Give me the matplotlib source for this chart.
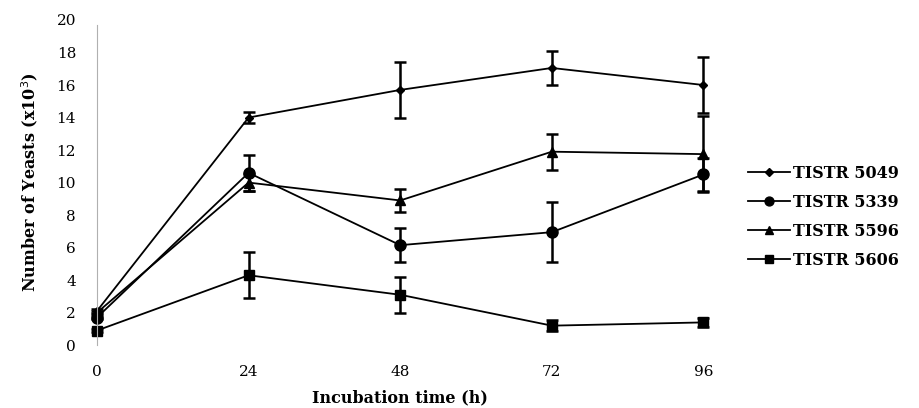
import matplotlib.pyplot as plt
from matplotlib.lines import Line2D

# ------------------- DATA ------------------- #
hours = [0, 24, 48, 72, 96]

strains = ["TISTR 5049", "TISTR 5339", "TISTR 5596", "TISTR 5606"]

y_5049 = [2.1, 14.0, 15.7, 17.05, 16.0]
e_5049 = [0.1, 0.35, 1.7, 1.07, 1.75]

y_5339 = [1.7, 10.6, 6.15, 6.95, 10.5]
e_5339 = [0.1, 1.1, 1.05, 1.85, 1.0]

y_5596 = [2.0, 10.0, 8.9, 11.9, 11.75]
e_5596 = [0.1, 0.5, 0.7, 1.1, 2.35]

y_5606 = [0.9, 4.3, 3.1, 1.2, 1.4]
e_5606 = [0.1, 1.4, 1.1, 0.35, 0.3]

values = [y_5049, y_5339, y_5596, y_5606]
errors = [e_5049, e_5339, e_5596, e_5606]
markers = ["D", "o", "^", "s"]
msizes = [4.5, 8, 6.5, 7.5]

# ------------------- PLOTTING ------------------- #
plt.rcParams['font.family'] = ['DejaVu Serif']

fig = plt.figure(figsize=(9.19, 4.08), dpi=100)
ax = fig.add_axes([0.1055, 0.154, 0.66, 0.797])

handles = []
for name, y, e, m, ms in zip(strains, values, errors, markers, msizes):
    ax.errorbar(hours, y, yerr=e, color='black', lw=1.3, marker=m, ms=ms,
                elinewidth=1.8, capsize=4, capthick=1.8, clip_on=False)
    handles.append(Line2D([], [], color='black', lw=1.3, marker=m,
                          ms=ms * 0.8, label=name))

ax.set_xlim(0, 96)
ax.set_ylim(0, 20)
ax.set_xticks(hours)
ax.set_yticks(range(0, 21, 2))
ax.tick_params(length=0, labelsize=11)
ax.tick_params(axis='x', pad=14)
ax.tick_params(axis='y', pad=15)

for s in ['top', 'right', 'bottom']:
    ax.spines[s].set_visible(False)
ax.spines['left'].set_color('#b0b0b0')
ax.spines['left'].set_bounds(0, 19.7)

ax.set_xlabel("Incubation time (h)", fontsize=11.5, fontweight='bold', labelpad=8)
ax.set_ylabel("Number of Yeasts (x10$^3$)", fontsize=11.5, fontweight='bold', labelpad=12)

ax.legend(handles=handles, loc='center left', bbox_to_anchor=(1.05, 0.395),
          frameon=False, prop={'weight': 'bold', 'size': 11.5},
          handlelength=2.6, handletextpad=0.2, labelspacing=0.75)

fig.savefig("out.png", dpi=100)
